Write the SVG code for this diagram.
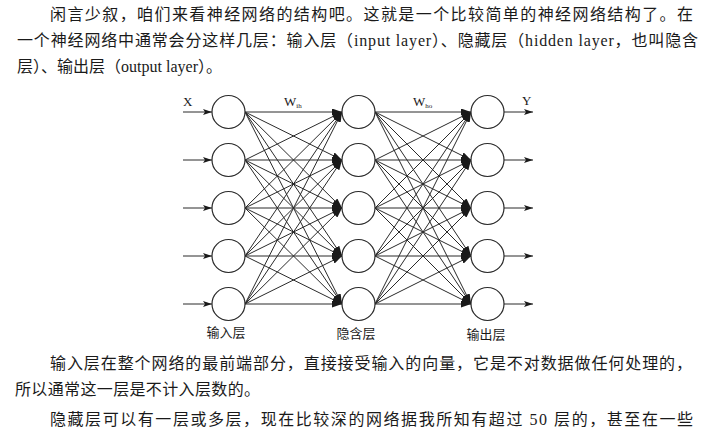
<svg xmlns="http://www.w3.org/2000/svg" width="725" height="439" viewBox="0 0 725 439">
<style>
.p{font-family:"Liberation Serif","Noto Sans CJK SC",serif;font-size:16px;fill:#1a1a1a}
.n{fill:#fff;stroke:#2a2a2a;stroke-width:1.2}
.c line,.c path{stroke:#2a2a2a;stroke-width:1;fill:none}
.w{stroke:#2a2a2a;stroke-width:1;marker-end:url(#ah)}
.io{stroke:#2a2a2a;stroke-width:1;marker-end:url(#ai)}
.lb{font-family:"Liberation Serif","Noto Sans CJK SC",serif;font-size:13px;fill:#1a1a1a;text-anchor:middle}
.sm{font-family:"Liberation Serif",serif;font-size:13px;fill:#1a1a1a}
</style>
<defs>
<marker id="ah" markerUnits="userSpaceOnUse" markerWidth="10" markerHeight="7" refX="10" refY="3.5" orient="auto">
<path d="M0,0 L10,3.5 L0,7 z" fill="#1a1a1a"/>
</marker>
<marker id="ai" markerUnits="userSpaceOnUse" markerWidth="9" markerHeight="6" refX="9" refY="3" orient="auto">
<path d="M0,0 L9,3 L0,6 L2,3 z" fill="#1a1a1a"/>
</marker>
</defs>
<rect width="725" height="439" fill="#fff"/>
<text class="p" x="50" y="20" textLength="643" lengthAdjust="spacing">闲言少叙，咱们来看神经网络的结构吧。这就是一个比较简单的神经网络结构了。在</text>
<text class="p" x="17" y="46" textLength="681" lengthAdjust="spacing">一个神经网络中通常会分这样几层：输入层（input layer）、隐藏层（hidden layer，也叫隐含</text>
<text class="p" x="17" y="72" textLength="205" lengthAdjust="spacing">层）、输出层（output layer）。</text>
<text class="p" x="50" y="369" textLength="642" lengthAdjust="spacing">输入层在整个网络的最前端部分，直接接受输入的向量，它是不对数据做任何处理的，</text>
<text class="p" x="15" y="395" textLength="245" lengthAdjust="spacing">所以通常这一层是不计入层数的。</text>
<text class="p" x="50" y="425" textLength="643" lengthAdjust="spacing">隐藏层可以有一层或多层，现在比较深的网络据我所知有超过 50 层的，甚至在一些</text>
<g id="connectors" class="c">
<line class="io" x1="183" y1="112" x2="212" y2="112"/>
<line class="io" x1="183" y1="160" x2="212" y2="160"/>
<line class="io" x1="183" y1="208" x2="212" y2="208"/>
<line class="io" x1="183" y1="256" x2="212" y2="256"/>
<line class="io" x1="183" y1="304" x2="212" y2="304"/>
<line class="w" x1="245" y1="112" x2="342" y2="112"/>
<line class="w" x1="245" y1="112" x2="342" y2="160"/>
<line class="w" x1="245" y1="112" x2="342" y2="208"/>
<line class="w" x1="245" y1="112" x2="342" y2="256"/>
<line class="w" x1="245" y1="112" x2="342" y2="304"/>
<line class="w" x1="245" y1="160" x2="342" y2="112"/>
<line class="w" x1="245" y1="160" x2="342" y2="160"/>
<line class="w" x1="245" y1="160" x2="342" y2="208"/>
<line class="w" x1="245" y1="160" x2="342" y2="256"/>
<line class="w" x1="245" y1="160" x2="342" y2="304"/>
<line class="w" x1="245" y1="208" x2="342" y2="112"/>
<line class="w" x1="245" y1="208" x2="342" y2="160"/>
<line class="w" x1="245" y1="208" x2="342" y2="208"/>
<line class="w" x1="245" y1="208" x2="342" y2="256"/>
<line class="w" x1="245" y1="208" x2="342" y2="304"/>
<line class="w" x1="245" y1="256" x2="342" y2="112"/>
<line class="w" x1="245" y1="256" x2="342" y2="160"/>
<line class="w" x1="245" y1="256" x2="342" y2="208"/>
<line class="w" x1="245" y1="256" x2="342" y2="256"/>
<line class="w" x1="245" y1="256" x2="342" y2="304"/>
<line class="w" x1="245" y1="304" x2="342" y2="112"/>
<line class="w" x1="245" y1="304" x2="342" y2="160"/>
<line class="w" x1="245" y1="304" x2="342" y2="208"/>
<line class="w" x1="245" y1="304" x2="342" y2="256"/>
<line class="w" x1="245" y1="304" x2="342" y2="304"/>
<line class="w" x1="375" y1="112" x2="471" y2="112"/>
<line class="w" x1="375" y1="112" x2="471" y2="160"/>
<line class="w" x1="375" y1="112" x2="471" y2="208"/>
<line class="w" x1="375" y1="112" x2="471" y2="256"/>
<line class="w" x1="375" y1="112" x2="471" y2="304"/>
<line class="w" x1="375" y1="160" x2="471" y2="112"/>
<line class="w" x1="375" y1="160" x2="471" y2="160"/>
<line class="w" x1="375" y1="160" x2="471" y2="208"/>
<line class="w" x1="375" y1="160" x2="471" y2="256"/>
<line class="w" x1="375" y1="160" x2="471" y2="304"/>
<line class="w" x1="375" y1="208" x2="471" y2="112"/>
<line class="w" x1="375" y1="208" x2="471" y2="160"/>
<line class="w" x1="375" y1="208" x2="471" y2="208"/>
<line class="w" x1="375" y1="208" x2="471" y2="256"/>
<line class="w" x1="375" y1="208" x2="471" y2="304"/>
<line class="w" x1="375" y1="256" x2="471" y2="112"/>
<line class="w" x1="375" y1="256" x2="471" y2="160"/>
<line class="w" x1="375" y1="256" x2="471" y2="208"/>
<line class="w" x1="375" y1="256" x2="471" y2="256"/>
<line class="w" x1="375" y1="256" x2="471" y2="304"/>
<line class="w" x1="375" y1="304" x2="471" y2="112"/>
<line class="w" x1="375" y1="304" x2="471" y2="160"/>
<line class="w" x1="375" y1="304" x2="471" y2="208"/>
<line class="w" x1="375" y1="304" x2="471" y2="256"/>
<line class="w" x1="375" y1="304" x2="471" y2="304"/>
<line class="io" x1="504" y1="112" x2="533" y2="112"/>
<line class="io" x1="504" y1="160" x2="533" y2="160"/>
<line class="io" x1="504" y1="208" x2="533" y2="208"/>
<line class="io" x1="504" y1="256" x2="533" y2="256"/>
<line class="io" x1="504" y1="304" x2="533" y2="304"/>
</g>
<g id="in1"><circle class="n" cx="228.5" cy="112" r="16.5"/></g>
<g id="in2"><circle class="n" cx="228.5" cy="160" r="16.5"/></g>
<g id="in3"><circle class="n" cx="228.5" cy="208" r="16.5"/></g>
<g id="in4"><circle class="n" cx="228.5" cy="256" r="16.5"/></g>
<g id="in5"><circle class="n" cx="228.5" cy="304" r="16.5"/></g>
<g id="h1"><circle class="n" cx="358.5" cy="112" r="16.5"/></g>
<g id="h2"><circle class="n" cx="358.5" cy="160" r="16.5"/></g>
<g id="h3"><circle class="n" cx="358.5" cy="208" r="16.5"/></g>
<g id="h4"><circle class="n" cx="358.5" cy="256" r="16.5"/></g>
<g id="h5"><circle class="n" cx="358.5" cy="304" r="16.5"/></g>
<g id="out1"><circle class="n" cx="487.5" cy="112" r="16.5"/></g>
<g id="out2"><circle class="n" cx="487.5" cy="160" r="16.5"/></g>
<g id="out3"><circle class="n" cx="487.5" cy="208" r="16.5"/></g>
<g id="out4"><circle class="n" cx="487.5" cy="256" r="16.5"/></g>
<g id="out5"><circle class="n" cx="487.5" cy="304" r="16.5"/></g>
<g id="labels">
<text class="sm" x="183" y="106">X</text>
<text class="sm" x="284" y="106">W<tspan font-size="7" dy="1.5">ih</tspan></text>
<text class="sm" x="413" y="106">W<tspan font-size="7" dy="1.5">ho</tspan></text>
<text class="sm" x="522" y="105">Y</text>
<text class="lb" x="226" y="337">输入层</text>
<text class="lb" x="356" y="338">隐含层</text>
<text class="lb" x="486" y="339">输出层</text>
</g>
</svg>
